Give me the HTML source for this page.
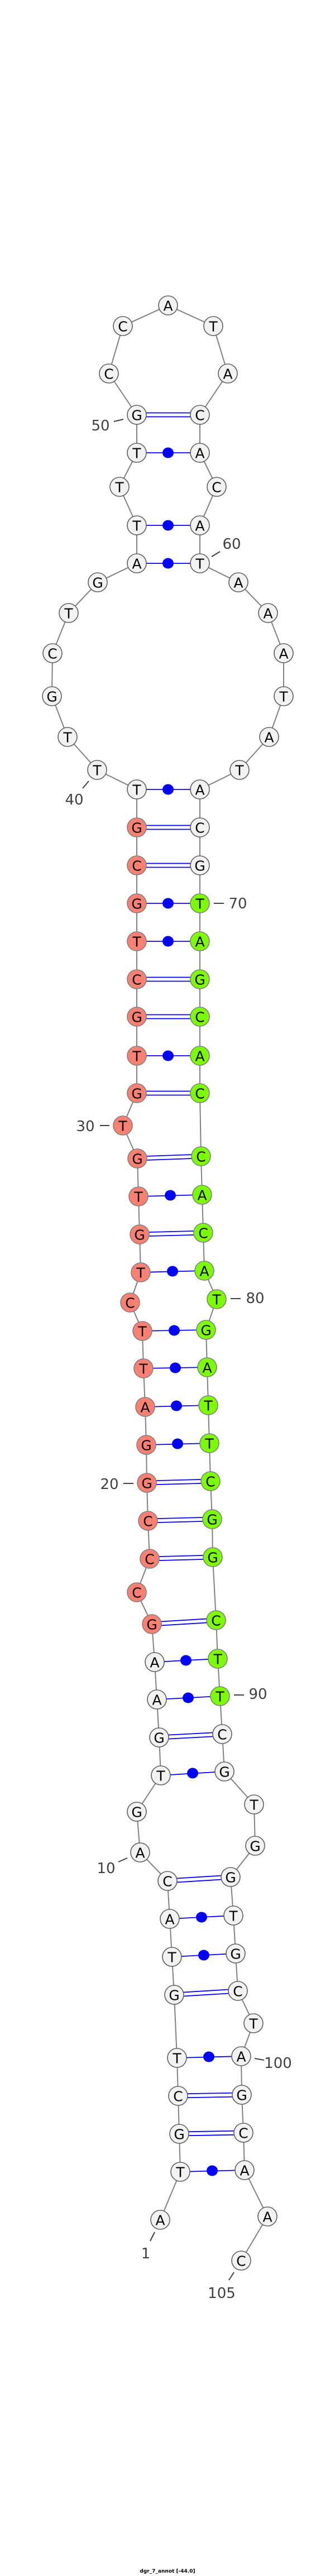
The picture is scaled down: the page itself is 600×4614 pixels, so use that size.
<!DOCTYPE html>
<html><head><meta charset="utf-8"><style>
html,body{margin:0;padding:0;background:#fff}
svg{display:block}
.w{fill:#f2f2f2;stroke:#606060;stroke-width:1.6}
.s{fill:#fa8072;stroke:#808080;stroke-width:1.6}
.g{fill:#7cfc00;stroke:#808080;stroke-width:1.6}
.nt{font-family:"DejaVu Sans","Liberation Sans",sans-serif;font-size:25px;text-anchor:middle;dominant-baseline:central;fill:#000}
.lb{font-family:"DejaVu Sans","Liberation Sans",sans-serif;font-size:26px;text-anchor:middle;dominant-baseline:central;fill:#404040}
.p{stroke:#0000ff;stroke-width:1.8}
.tk{stroke:#404040;stroke-width:2}
</style></head><body>
<svg width="600" height="4614" viewBox="0 0 600 4614" xmlns="http://www.w3.org/2000/svg">
<polyline fill="none" stroke="#808080" stroke-width="2" points="287,3976 323,3890 321,3822 319,3754 317,3686 312,3573 308,3505 304,3437 300,3369 251,3318 245,3245 288,3180 285,3112 281,3044 277,2977 272,2909 245,2852 268,2792 265,2724 263,2656 262,2588 260,2520 257,2451 255,2384 233,2333 252,2279 250,2211 248,2143 246,2075 220,2016 245,1958 245,1891 245,1821 245,1754 245,1686 245,1618 245,1550 245,1482 245,1414 174,1379 121,1320 93,1247 94,1170 123,1098 175,1043 245,1009 245,941 214,872 245,811 245,743 195,669 220,584 301,547 382,584 408,669 358,743 358,811 388,872 358,941 358,1009 427,1043 480,1098 508,1170 508,1247 482,1320 429,1379 358,1414 358,1482 358,1550 358,1618 358,1686 358,1754 358,1821 358,1891 358,1958 360,2071 362,2140 364,2208 366,2276 388,2327 369,2382 371,2449 373,2517 375,2585 377,2653 380,2721 381,2789 387,2902 390,2971 394,3038 398,3106 402,3173 455,3232 457,3306 413,3362 418,3431 422,3499 426,3566 454,3624 432,3683 433,3752 436,3820 438,3887 479,3970 432,4049"/>
<g class="p">
<line x1="323" y1="3890" x2="438" y2="3887"/>
<line x1="321" y1="3818.5" x2="436" y2="3816.5"/><line x1="321" y1="3825.5" x2="436" y2="3823.5"/>
<line x1="319" y1="3750.5" x2="433" y2="3748.5"/><line x1="319" y1="3757.5" x2="433" y2="3755.5"/>
<line x1="317" y1="3686" x2="432" y2="3683"/>
<line x1="312" y1="3569.5" x2="426" y2="3562.5"/><line x1="312" y1="3576.5" x2="426" y2="3569.5"/>
<line x1="308" y1="3505" x2="422" y2="3499"/>
<line x1="304" y1="3437" x2="418" y2="3431"/>
<line x1="300" y1="3365.5" x2="413" y2="3358.5"/><line x1="300" y1="3372.5" x2="413" y2="3365.5"/>
<line x1="288" y1="3180" x2="402" y2="3173"/>
<line x1="285" y1="3108.5" x2="398" y2="3102.5"/><line x1="285" y1="3115.5" x2="398" y2="3109.5"/>
<line x1="281" y1="3044" x2="394" y2="3038"/>
<line x1="277" y1="2977" x2="390" y2="2971"/>
<line x1="272" y1="2905.5" x2="387" y2="2898.5"/><line x1="272" y1="2912.5" x2="387" y2="2905.5"/>
<line x1="268" y1="2788.5" x2="381" y2="2785.5"/><line x1="268" y1="2795.5" x2="381" y2="2792.5"/>
<line x1="265" y1="2720.5" x2="380" y2="2717.5"/><line x1="265" y1="2727.5" x2="380" y2="2724.5"/>
<line x1="263" y1="2652.5" x2="377" y2="2649.5"/><line x1="263" y1="2659.5" x2="377" y2="2656.5"/>
<line x1="262" y1="2588" x2="375" y2="2585"/>
<line x1="260" y1="2520" x2="373" y2="2517"/>
<line x1="257" y1="2451" x2="371" y2="2449"/>
<line x1="255" y1="2384" x2="369" y2="2382"/>
<line x1="252" y1="2279" x2="366" y2="2276"/>
<line x1="250" y1="2207.5" x2="364" y2="2204.5"/><line x1="250" y1="2214.5" x2="364" y2="2211.5"/>
<line x1="248" y1="2143" x2="362" y2="2140"/>
<line x1="246" y1="2071.5" x2="360" y2="2067.5"/><line x1="246" y1="2078.5" x2="360" y2="2074.5"/>
<line x1="245" y1="1954.5" x2="358" y2="1954.5"/><line x1="245" y1="1961.5" x2="358" y2="1961.5"/>
<line x1="245" y1="1891" x2="358" y2="1891"/>
<line x1="245" y1="1817.5" x2="358" y2="1817.5"/><line x1="245" y1="1824.5" x2="358" y2="1824.5"/>
<line x1="245" y1="1750.5" x2="358" y2="1750.5"/><line x1="245" y1="1757.5" x2="358" y2="1757.5"/>
<line x1="245" y1="1686" x2="358" y2="1686"/>
<line x1="245" y1="1618" x2="358" y2="1618"/>
<line x1="245" y1="1546.5" x2="358" y2="1546.5"/><line x1="245" y1="1553.5" x2="358" y2="1553.5"/>
<line x1="245" y1="1478.5" x2="358" y2="1478.5"/><line x1="245" y1="1485.5" x2="358" y2="1485.5"/>
<line x1="245" y1="1414" x2="358" y2="1414"/>
<line x1="245" y1="1009" x2="358" y2="1009"/>
<line x1="245" y1="941" x2="358" y2="941"/>
<line x1="245" y1="811" x2="358" y2="811"/>
<line x1="245" y1="739.5" x2="358" y2="739.5"/><line x1="245" y1="746.5" x2="358" y2="746.5"/>
</g>
<g fill="#0000ff">
<ellipse cx="380" cy="3888" rx="10" ry="9.5"/><ellipse cx="374" cy="3684" rx="10" ry="9.5"/>
<ellipse cx="365" cy="3502" rx="10" ry="9.5"/><ellipse cx="361" cy="3434" rx="10" ry="9.5"/>
<ellipse cx="345" cy="3176" rx="10" ry="9.5"/><ellipse cx="337" cy="3041" rx="10" ry="9.5"/>
<ellipse cx="333" cy="2974" rx="10" ry="9.5"/><ellipse cx="318" cy="2586" rx="10" ry="9.5"/>
<ellipse cx="316" cy="2518" rx="10" ry="9.5"/><ellipse cx="314" cy="2450" rx="10" ry="9.5"/>
<ellipse cx="312" cy="2383" rx="10" ry="9.5"/><ellipse cx="309" cy="2277" rx="10" ry="9.5"/>
<ellipse cx="305" cy="2141" rx="10" ry="9.5"/><ellipse cx="301" cy="1891" rx="10" ry="9.5"/>
<ellipse cx="301" cy="1686" rx="10" ry="9.5"/><ellipse cx="301" cy="1618" rx="10" ry="9.5"/>
<ellipse cx="301" cy="1414" rx="10" ry="9.5"/><ellipse cx="301" cy="1009" rx="10" ry="9.5"/>
<ellipse cx="301" cy="941" rx="10" ry="9.5"/><ellipse cx="301" cy="811" rx="10" ry="9.5"/>
</g>
<g>
<circle class="w" cx="287" cy="3976" r="17"/><text class="nt" x="287" y="3977">A</text>
<circle class="w" cx="323" cy="3890" r="17"/><text class="nt" x="323" y="3891">T</text>
<circle class="w" cx="321" cy="3822" r="17"/><text class="nt" x="321" y="3823">G</text>
<circle class="w" cx="319" cy="3754" r="17"/><text class="nt" x="319" y="3755">C</text>
<circle class="w" cx="317" cy="3686" r="17"/><text class="nt" x="317" y="3687">T</text>
<circle class="w" cx="312" cy="3573" r="17"/><text class="nt" x="312" y="3574">G</text>
<circle class="w" cx="308" cy="3505" r="17"/><text class="nt" x="308" y="3506">T</text>
<circle class="w" cx="304" cy="3437" r="17"/><text class="nt" x="304" y="3438">A</text>
<circle class="w" cx="300" cy="3369" r="17"/><text class="nt" x="300" y="3370">C</text>
<circle class="w" cx="251" cy="3318" r="17"/><text class="nt" x="251" y="3319">A</text>
<circle class="w" cx="245" cy="3245" r="17"/><text class="nt" x="245" y="3246">G</text>
<circle class="w" cx="288" cy="3180" r="17"/><text class="nt" x="288" y="3181">T</text>
<circle class="w" cx="285" cy="3112" r="17"/><text class="nt" x="285" y="3113">G</text>
<circle class="w" cx="281" cy="3044" r="17"/><text class="nt" x="281" y="3045">A</text>
<circle class="w" cx="277" cy="2977" r="17"/><text class="nt" x="277" y="2978">A</text>
<circle class="s" cx="272" cy="2909" r="17"/><text class="nt" x="272" y="2910">G</text>
<circle class="s" cx="245" cy="2852" r="17"/><text class="nt" x="245" y="2853">C</text>
<circle class="s" cx="268" cy="2792" r="17"/><text class="nt" x="268" y="2793">C</text>
<circle class="s" cx="265" cy="2724" r="17"/><text class="nt" x="265" y="2725">C</text>
<circle class="s" cx="263" cy="2656" r="17"/><text class="nt" x="263" y="2657">G</text>
<circle class="s" cx="262" cy="2588" r="17"/><text class="nt" x="262" y="2589">G</text>
<circle class="s" cx="260" cy="2520" r="17"/><text class="nt" x="260" y="2521">A</text>
<circle class="s" cx="257" cy="2451" r="17"/><text class="nt" x="257" y="2452">T</text>
<circle class="s" cx="255" cy="2384" r="17"/><text class="nt" x="255" y="2385">T</text>
<circle class="s" cx="233" cy="2333" r="17"/><text class="nt" x="233" y="2334">C</text>
<circle class="s" cx="252" cy="2279" r="17"/><text class="nt" x="252" y="2280">T</text>
<circle class="s" cx="250" cy="2211" r="17"/><text class="nt" x="250" y="2212">G</text>
<circle class="s" cx="248" cy="2143" r="17"/><text class="nt" x="248" y="2144">T</text>
<circle class="s" cx="246" cy="2075" r="17"/><text class="nt" x="246" y="2076">G</text>
<circle class="s" cx="220" cy="2016" r="17"/><text class="nt" x="220" y="2017">T</text>
<circle class="s" cx="245" cy="1958" r="17"/><text class="nt" x="245" y="1959">G</text>
<circle class="s" cx="245" cy="1891" r="17"/><text class="nt" x="245" y="1892">T</text>
<circle class="s" cx="245" cy="1821" r="17"/><text class="nt" x="245" y="1822">G</text>
<circle class="s" cx="245" cy="1754" r="17"/><text class="nt" x="245" y="1755">C</text>
<circle class="s" cx="245" cy="1686" r="17"/><text class="nt" x="245" y="1687">T</text>
<circle class="s" cx="245" cy="1618" r="17"/><text class="nt" x="245" y="1619">G</text>
<circle class="s" cx="245" cy="1550" r="17"/><text class="nt" x="245" y="1551">C</text>
<circle class="s" cx="245" cy="1482" r="17"/><text class="nt" x="245" y="1483">G</text>
<circle class="w" cx="245" cy="1414" r="17"/><text class="nt" x="245" y="1415">T</text>
<circle class="w" cx="174" cy="1379" r="17"/><text class="nt" x="174" y="1380">T</text>
<circle class="w" cx="121" cy="1320" r="17"/><text class="nt" x="121" y="1321">T</text>
<circle class="w" cx="93" cy="1247" r="17"/><text class="nt" x="93" y="1248">G</text>
<circle class="w" cx="94" cy="1170" r="17"/><text class="nt" x="94" y="1171">C</text>
<circle class="w" cx="123" cy="1098" r="17"/><text class="nt" x="123" y="1099">T</text>
<circle class="w" cx="175" cy="1043" r="17"/><text class="nt" x="175" y="1044">G</text>
<circle class="w" cx="245" cy="1009" r="17"/><text class="nt" x="245" y="1010">A</text>
<circle class="w" cx="245" cy="941" r="17"/><text class="nt" x="245" y="942">T</text>
<circle class="w" cx="214" cy="872" r="17"/><text class="nt" x="214" y="873">T</text>
<circle class="w" cx="245" cy="811" r="17"/><text class="nt" x="245" y="812">T</text>
<circle class="w" cx="245" cy="743" r="17"/><text class="nt" x="245" y="744">G</text>
<circle class="w" cx="195" cy="669" r="17"/><text class="nt" x="195" y="670">C</text>
<circle class="w" cx="220" cy="584" r="17"/><text class="nt" x="220" y="585">C</text>
<circle class="w" cx="301" cy="547" r="17"/><text class="nt" x="301" y="548">A</text>
<circle class="w" cx="382" cy="584" r="17"/><text class="nt" x="382" y="585">T</text>
<circle class="w" cx="408" cy="669" r="17"/><text class="nt" x="408" y="670">A</text>
<circle class="w" cx="358" cy="743" r="17"/><text class="nt" x="358" y="744">C</text>
<circle class="w" cx="358" cy="811" r="17"/><text class="nt" x="358" y="812">A</text>
<circle class="w" cx="388" cy="872" r="17"/><text class="nt" x="388" y="873">C</text>
<circle class="w" cx="358" cy="941" r="17"/><text class="nt" x="358" y="942">A</text>
<circle class="w" cx="358" cy="1009" r="17"/><text class="nt" x="358" y="1010">T</text>
<circle class="w" cx="427" cy="1043" r="17"/><text class="nt" x="427" y="1044">A</text>
<circle class="w" cx="480" cy="1098" r="17"/><text class="nt" x="480" y="1099">A</text>
<circle class="w" cx="508" cy="1170" r="17"/><text class="nt" x="508" y="1171">A</text>
<circle class="w" cx="508" cy="1247" r="17"/><text class="nt" x="508" y="1248">T</text>
<circle class="w" cx="482" cy="1320" r="17"/><text class="nt" x="482" y="1321">A</text>
<circle class="w" cx="429" cy="1379" r="17"/><text class="nt" x="429" y="1380">T</text>
<circle class="w" cx="358" cy="1414" r="17"/><text class="nt" x="358" y="1415">A</text>
<circle class="w" cx="358" cy="1482" r="17"/><text class="nt" x="358" y="1483">C</text>
<circle class="w" cx="358" cy="1550" r="17"/><text class="nt" x="358" y="1551">G</text>
<circle class="g" cx="358" cy="1618" r="17"/><text class="nt" x="358" y="1619">T</text>
<circle class="g" cx="358" cy="1686" r="17"/><text class="nt" x="358" y="1687">A</text>
<circle class="g" cx="358" cy="1754" r="17"/><text class="nt" x="358" y="1755">G</text>
<circle class="g" cx="358" cy="1821" r="17"/><text class="nt" x="358" y="1822">C</text>
<circle class="g" cx="358" cy="1891" r="17"/><text class="nt" x="358" y="1892">A</text>
<circle class="g" cx="358" cy="1958" r="17"/><text class="nt" x="358" y="1959">C</text>
<circle class="g" cx="360" cy="2071" r="17"/><text class="nt" x="360" y="2072">C</text>
<circle class="g" cx="362" cy="2140" r="17"/><text class="nt" x="362" y="2141">A</text>
<circle class="g" cx="364" cy="2208" r="17"/><text class="nt" x="364" y="2209">C</text>
<circle class="g" cx="366" cy="2276" r="17"/><text class="nt" x="366" y="2277">A</text>
<circle class="g" cx="388" cy="2327" r="17"/><text class="nt" x="388" y="2328">T</text>
<circle class="g" cx="369" cy="2382" r="17"/><text class="nt" x="369" y="2383">G</text>
<circle class="g" cx="371" cy="2449" r="17"/><text class="nt" x="371" y="2450">A</text>
<circle class="g" cx="373" cy="2517" r="17"/><text class="nt" x="373" y="2518">T</text>
<circle class="g" cx="375" cy="2585" r="17"/><text class="nt" x="375" y="2586">T</text>
<circle class="g" cx="377" cy="2653" r="17"/><text class="nt" x="377" y="2654">C</text>
<circle class="g" cx="380" cy="2721" r="17"/><text class="nt" x="380" y="2722">G</text>
<circle class="g" cx="381" cy="2789" r="17"/><text class="nt" x="381" y="2790">G</text>
<circle class="g" cx="387" cy="2902" r="17"/><text class="nt" x="387" y="2903">C</text>
<circle class="g" cx="390" cy="2971" r="17"/><text class="nt" x="390" y="2972">T</text>
<circle class="g" cx="394" cy="3038" r="17"/><text class="nt" x="394" y="3039">T</text>
<circle class="w" cx="398" cy="3106" r="17"/><text class="nt" x="398" y="3107">C</text>
<circle class="w" cx="402" cy="3173" r="17"/><text class="nt" x="402" y="3174">G</text>
<circle class="w" cx="455" cy="3232" r="17"/><text class="nt" x="455" y="3233">T</text>
<circle class="w" cx="457" cy="3306" r="17"/><text class="nt" x="457" y="3307">G</text>
<circle class="w" cx="413" cy="3362" r="17"/><text class="nt" x="413" y="3363">G</text>
<circle class="w" cx="418" cy="3431" r="17"/><text class="nt" x="418" y="3432">T</text>
<circle class="w" cx="422" cy="3499" r="17"/><text class="nt" x="422" y="3500">G</text>
<circle class="w" cx="426" cy="3566" r="17"/><text class="nt" x="426" y="3567">C</text>
<circle class="w" cx="454" cy="3624" r="17"/><text class="nt" x="454" y="3625">T</text>
<circle class="w" cx="432" cy="3683" r="17"/><text class="nt" x="432" y="3684">A</text>
<circle class="w" cx="433" cy="3752" r="17"/><text class="nt" x="433" y="3753">G</text>
<circle class="w" cx="436" cy="3820" r="17"/><text class="nt" x="436" y="3821">C</text>
<circle class="w" cx="438" cy="3887" r="17"/><text class="nt" x="438" y="3888">A</text>
<circle class="w" cx="479" cy="3970" r="17"/><text class="nt" x="479" y="3971">A</text>
<circle class="w" cx="432" cy="4049" r="17"/><text class="nt" x="432" y="4050">C</text>
</g>
<g class="tk">
<line x1="269" y1="4014" x2="277" y2="3998"/>
<line x1="212" y1="3335" x2="228" y2="3328"/>
<line x1="221" y1="2657" x2="239" y2="2657"/>
<line x1="179" y1="2016" x2="196" y2="2016"/>
<line x1="148" y1="1412" x2="159" y2="1399"/>
<line x1="204" y1="755" x2="221" y2="751"/>
<line x1="379" y1="997" x2="394" y2="988"/>
<line x1="383" y1="1618" x2="401" y2="1618"/>
<line x1="413" y1="2326" x2="431" y2="2326"/>
<line x1="419" y1="3036" x2="437" y2="3036"/>
<line x1="456" y1="3687" x2="473" y2="3690"/>
<line x1="410" y1="4084" x2="419" y2="4070"/>
</g>
<g>
<text class="lb" x="261" y="4037">1</text>
<text class="lb" x="190" y="3347">10</text>
<text class="lb" x="196" y="2659">20</text>
<text class="lb" x="153" y="2018">30</text>
<text class="lb" x="133" y="1433">40</text>
<text class="lb" x="180" y="763">50</text>
<text class="lb" x="415" y="975">60</text>
<text class="lb" x="426" y="1619">70</text>
<text class="lb" x="457" y="2326">80</text>
<text class="lb" x="462" y="3035">90</text>
<text class="lb" x="498" y="3696">100</text>
<text class="lb" x="397" y="4108">105</text>
</g>
<text x="300" y="4608" text-anchor="middle" font-family="'DejaVu Sans','Liberation Sans',sans-serif" font-size="9" font-weight="bold" fill="#000">dgr_7_annot [-44.0]</text>
</svg>
</body></html>
